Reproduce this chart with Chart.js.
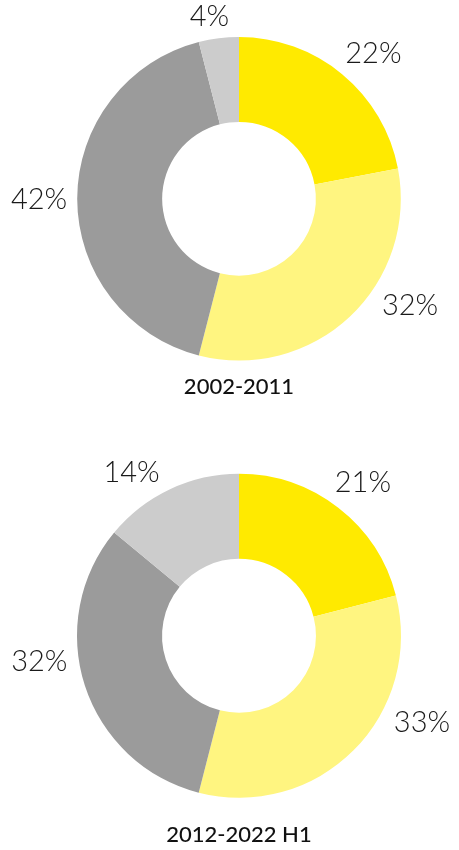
<!DOCTYPE html>
<html>
<head>
<meta charset="utf-8">
<script src="https://cdn.jsdelivr.net/npm/chart.js@4"></script>
<style>
  html, body { margin: 0; padding: 0; background: #fff; }
  .box { width: 459px; position: relative; }
  #wrapTop { height: 420px; }
  #wrapBottom { height: 430px; }
</style>
</head>
<body>
<div class="box" id="wrapTop"><canvas id="chartTop"></canvas></div>
<div class="box" id="wrapBottom"><canvas id="chartBottom"></canvas></div>
<script>
// data
var categories = ['Segment 1', 'Segment 2', 'Segment 3', 'Segment 4'];
var periodTop = '2002-2011';
var periodBottom = '2012-2022 H1';
var valuesTop = [22, 32, 42, 4];
var valuesBottom = [21, 33, 32, 14];
var sliceColors = ['#FFEA00', '#FFF580', '#9B9B9B', '#CCCCCC'];

// small nudges of the outside labels (degrees), like the original layout
var labelNudgeTop = [3, -15, 0, -2];
var labelNudgeBottom = [1, -20, 11, -8];

var outsideLabels = {
    id: 'outsideLabels',
    afterDatasetsDraw: function(chart, args, opts) {
        var ctx = chart.ctx;
        var meta = chart.getDatasetMeta(0);
        var data = chart.data.datasets[0].data;
        var size = 29;
        var cap = size * 0.72;
        ctx.save();
        ctx.font = '300 ' + size + 'px Lato, "Open Sans", sans-serif';
        ctx.fillStyle = '#1a1a1a';
        ctx.textAlign = 'center';
        ctx.textBaseline = 'alphabetic';
        meta.data.forEach(function(arc, i) {
            var p = arc.getProps(['x', 'y', 'startAngle', 'endAngle', 'outerRadius'], true);
            var a = (p.startAngle + p.endAngle) / 2 + (opts.nudge[i] || 0) * Math.PI / 180;
            var text = data[i] + '%';
            var w = ctx.measureText(text).width;
            var cx = Math.cos(a), sy = Math.sin(a);
            var d = p.outerRadius + 10 + Math.abs(cx) * w / 2 + Math.abs(sy) * cap / 2;
            ctx.fillText(text, p.x + cx * d, p.y + sy * d + cap / 2);
        });
        ctx.restore();
    }
};

function makeDonut(id, values, period, nudge, pad, titlePad) {
    var ctx = document.getElementById(id).getContext('2d');
    return new Chart(ctx, {
        type: 'doughnut',
        data: {
            labels: categories,
            datasets: [{
                data: values,
                backgroundColor: sliceColors,
                borderWidth: 0,
                hoverOffset: 0
            }]
        },
        options: {
            responsive: true,
            maintainAspectRatio: false,
            animation: false,
            cutout: '47.5%',
            layout: { padding: pad },
            plugins: {
                legend: { display: false },
                tooltip: { enabled: false },
                title: {
                    display: true,
                    text: period,
                    position: 'bottom',
                    color: '#111',
                    font: { family: 'Lato, "Open Sans", sans-serif', size: 22, weight: '500', lineHeight: 1.2 },
                    padding: titlePad
                },
                outsideLabels: { nudge: nudge }
            }
        },
        plugins: [outsideLabels]
    });
}

makeDonut('chartTop', valuesTop, periodTop, labelNudgeTop,
    { left: 77, right: 58, top: 37, bottom: 0 }, { top: 13, bottom: 20 });
makeDonut('chartBottom', valuesBottom, periodBottom, labelNudgeBottom,
    { left: 77, right: 58, top: 53, bottom: 0 }, { top: 23, bottom: 2 });
</script>
</body>
</html>
